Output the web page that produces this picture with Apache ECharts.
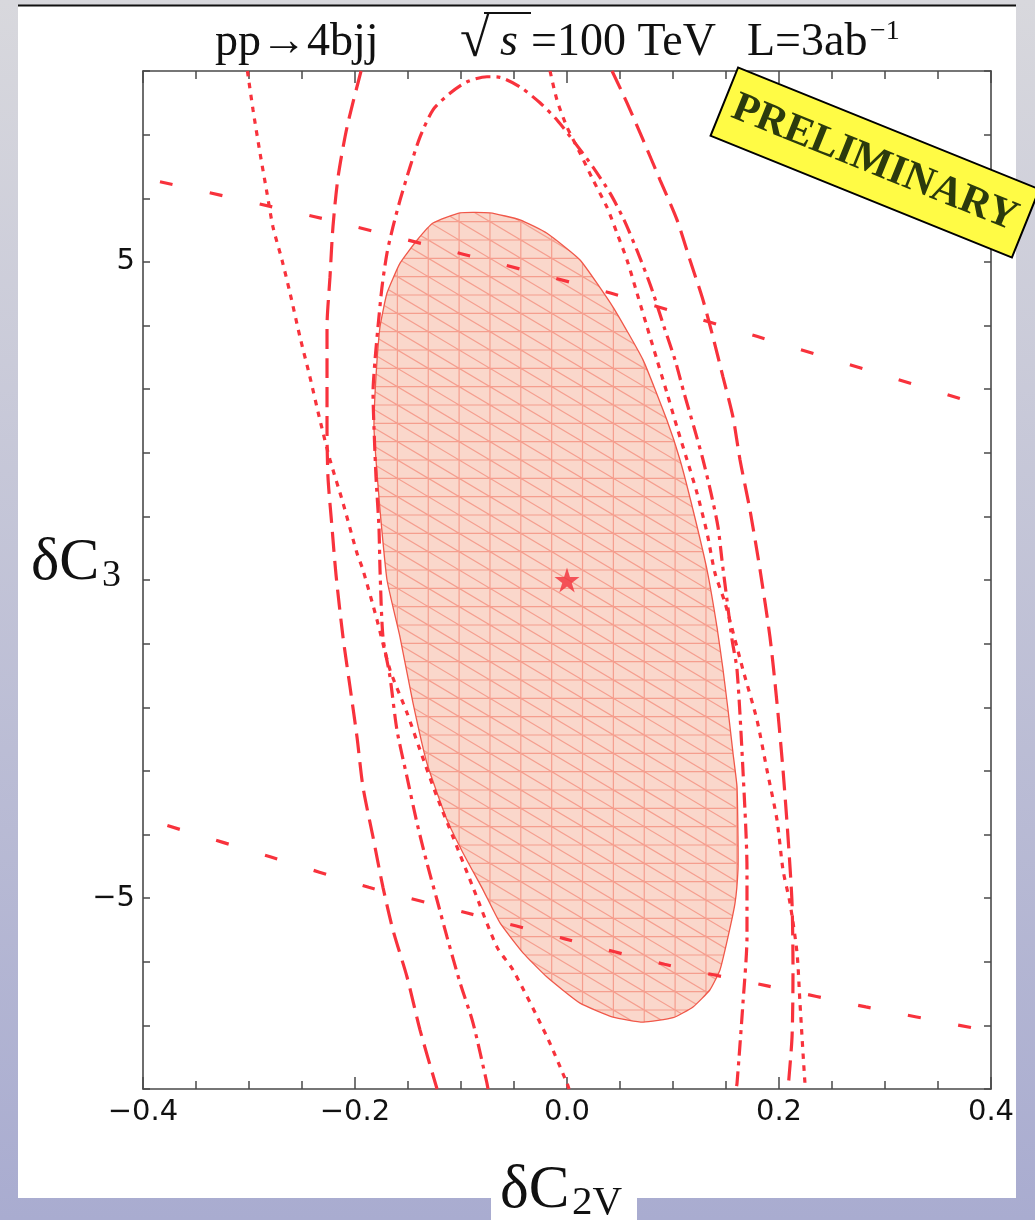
<!DOCTYPE html>
<html><head><meta charset="utf-8">
<script src="https://cdn.jsdelivr.net/npm/echarts/dist/echarts.min.js"></script>
<style>html,body{margin:0;padding:0;background:#fff}#c{width:1035px;height:1220px}</style>
</head><body><div id="c"></div>
<script>
// ---------- data ----------
const xTicks = [-0.4, -0.2, 0, 0.2, 0.4];
const xTickLabels = ['−0.4', '−0.2', '0.0', '0.2', '0.4'];
const yTicks = [-5, 0, 5];
const yTickLabels = ['−5', '0', '5'];
const bestFit = [[0, 0]];

const regionFill = [[-0.0726,5.77],[-0.0443,5.66],[-0.0189,5.45],[0.0123,5.03],[0.0434,4.29],[0.0717,3.46],[0.0943,2.51],[0.1066,1.89],[0.1189,1.10],[0.1321,0.16],[0.1415,-0.74],[0.1472,-1.41],[0.1519,-2.04],[0.1566,-2.72],[0.1604,-3.25],[0.1613,-4.04],[0.1613,-4.56],[0.1585,-5.08],[0.1519,-5.61],[0.1443,-6.13],[0.1349,-6.44],[0.1189,-6.71],[0.1000,-6.88],[0.0717,-6.95],[0.0434,-6.87],[0.0123,-6.65],[-0.0189,-6.24],[-0.0415,-5.86],[-0.0632,-5.39],[-0.0792,-4.87],[-0.0981,-4.29],[-0.1132,-3.77],[-0.1321,-2.88],[-0.1453,-1.93],[-0.1575,-0.90],[-0.1698,0.00],[-0.1764,1.10],[-0.1802,1.89],[-0.1821,2.40],[-0.1811,2.94],[-0.1792,3.46],[-0.1764,3.98],[-0.1698,4.51],[-0.1575,4.98],[-0.1415,5.34],[-0.1264,5.61],[-0.1009,5.77]];

const sparseTop = [[-0.384,6.26],[-0.238,5.71],[-0.098,5.12],[0.041,4.51],[0.179,3.83],[0.375,2.83]];
const sparseBottom = [[-0.377,-3.86],[-0.280,-4.35],[-0.187,-4.83],[-0.095,-5.23],[-0.002,-5.64],[0.092,-6.04],[0.189,-6.38],[0.282,-6.71],[0.386,-7.05]];

const dashDot = [[-0.0745,-8.0],[-0.0755,-7.91],[-0.0887,-6.96],[-0.1009,-6.33],[-0.1132,-5.61],[-0.1226,-5.03],[-0.1321,-4.45],[-0.1415,-3.82],[-0.1509,-3.10],[-0.1604,-2.36],[-0.1670,-1.52],[-0.1736,-0.90],[-0.1764,0.16],[-0.1774,0.83],[-0.1802,1.62],[-0.1821,2.40],[-0.1830,2.94],[-0.1811,3.46],[-0.1783,3.98],[-0.1745,4.61],[-0.1698,5.14],[-0.1642,5.55],[-0.1575,5.97],[-0.1481,6.49],[-0.1387,6.96],[-0.1264,7.39],[-0.1104,7.65],[-0.0943,7.83],[-0.0755,7.91],[-0.0632,7.90],[-0.0443,7.75],[-0.0255,7.50],[-0.0094,7.23],[0.0075,6.87],[0.0245,6.49],[0.0406,6.08],[0.0538,5.66],[0.0670,5.14],[0.0792,4.61],[0.0915,3.98],[0.1019,3.46],[0.1104,2.94],[0.1198,2.40],[0.1283,1.89],[0.1358,1.37],[0.1425,0.83],[0.1462,0.31],[0.1509,-0.31],[0.1557,-0.94],[0.1604,-1.41],[0.1660,-2.99],[0.1698,-4.56],[0.1698,-5.61],[0.1660,-6.65],[0.1604,-7.91],[0.1594,-8.0]];

const dottedLeft = [[-0.3015,8.0],[-0.2962,7.39],[-0.2896,6.71],[-0.2830,6.08],[-0.2774,5.55],[-0.2689,5.03],[-0.2613,4.51],[-0.2519,3.82],[-0.2425,3.19],[-0.2330,2.51],[-0.2236,1.89],[-0.2113,1.21],[-0.1981,0.42],[-0.1925,0.16],[-0.1792,-0.63],[-0.1670,-1.41],[-0.1509,-2.09],[-0.1387,-2.67],[-0.1226,-3.41],[-0.1075,-4.04],[-0.0887,-4.83],[-0.0660,-5.77],[-0.0509,-6.13],[-0.0189,-7.18],[0.0000,-7.91],[0.0019,-8.0]];
const dottedRight = [[-0.0160,8.0],[-0.0094,7.54],[0.0000,7.12],[0.0123,6.71],[0.0245,6.29],[0.0377,5.86],[0.0472,5.45],[0.0566,5.03],[0.0660,4.51],[0.0755,3.98],[0.0849,3.46],[0.0943,2.94],[0.1038,2.40],[0.1132,1.89],[0.1226,1.37],[0.1321,0.74],[0.1396,0.11],[0.1491,-0.36],[0.1660,-1.41],[0.1792,-2.20],[0.1887,-2.99],[0.1981,-3.77],[0.2038,-4.56],[0.2104,-5.08],[0.2170,-5.86],[0.2198,-6.65],[0.2245,-7.91],[0.2255,-8.0]];

const dashedLeft = [[-0.1943,8.0],[-0.2075,7.12],[-0.2160,6.33],[-0.2208,5.55],[-0.2236,4.76],[-0.2264,3.98],[-0.2264,3.19],[-0.2264,2.40],[-0.2255,1.62],[-0.2217,0.83],[-0.2179,0.08],[-0.2113,-0.90],[-0.2047,-1.68],[-0.1981,-2.47],[-0.1925,-3.25],[-0.1830,-4.04],[-0.1736,-4.83],[-0.1642,-5.50],[-0.1509,-6.24],[-0.1387,-7.07],[-0.1226,-8.0]];
const dashedRight = [[0.0425,8.0],[0.0566,7.50],[0.0717,6.92],[0.0877,6.29],[0.1038,5.66],[0.1160,5.03],[0.1283,4.40],[0.1377,3.82],[0.1472,3.19],[0.1566,2.56],[0.1632,1.89],[0.1726,1.10],[0.1821,0.16],[0.1915,-0.90],[0.1981,-1.93],[0.2038,-2.99],[0.2085,-4.04],[0.2123,-5.08],[0.2132,-6.13],[0.2123,-7.18],[0.2085,-8.0]];

// ---------- styles ----------
const RED = '#f8323c';
const AX = '#4a4a4a';
const TICKFONT = '"DejaVu Sans", sans-serif';
const SERIF = '"Liberation Serif", "DejaVu Serif", serif';

function makeHatch() {
  const W = 216, H = 110, w = W / 7, h = H / 6, x0 = 27.1, y0 = 1.67;
  const c = document.createElement('canvas');
  c.width = W; c.height = H;
  const g = c.getContext('2d');
  g.fillStyle = '#fad7cb';
  g.fillRect(0, 0, W, H);
  g.strokeStyle = 'rgba(240,112,92,0.55)';
  g.lineWidth = 1.2;
  g.beginPath();
  for (let k = -1; k <= 8; k++) { const x = x0 + k * w; g.moveTo(x, -2); g.lineTo(x, H + 2); }
  for (let j = -1; j <= 7; j++) { const y = y0 + j * h; g.moveTo(-2, y); g.lineTo(W + 2, y); }
  for (let n = -16; n <= 12; n++) {
    g.moveTo(x0 - 3 * w, y0 + n * h - 3 * h);
    g.lineTo(x0 + 10 * w, y0 + n * h + 10 * h);
  }
  g.stroke();
  return c;
}
const hatch = makeHatch();

const lbl = v => { const i = xTicks.findIndex(t => Math.abs(t - v) < 1e-6); return i >= 0 ? xTickLabels[i] : ''; };
const lblY = v => { const i = yTicks.findIndex(t => Math.abs(t - v) < 1e-6); return i >= 0 ? yTickLabels[i] : ''; };

function xAx(pos, showLabel) {
  return {
    type: 'value', position: pos, min: -0.4, max: 0.4, interval: 0.2,
    axisLine: { show: true, onZero: false, lineStyle: { color: AX, width: 1.6 } },
    axisTick: { show: true, inside: true, length: 12, lineStyle: { color: AX, width: 1.5 } },
    minorTick: { show: true, splitNumber: 4, length: 8, lineStyle: { color: AX, width: 1.5 } },
    splitLine: { show: false }, minorSplitLine: { show: false },
    axisLabel: { show: showLabel, margin: 9, formatter: lbl, color: '#111', fontSize: 29, fontFamily: TICKFONT }
  };
}
function yAxMinor(pos) {
  return {
    type: 'value', position: pos, min: -8, max: 8, interval: 1,
    axisLine: { show: true, onZero: false, lineStyle: { color: AX, width: 1.6 } },
    axisTick: { show: true, inside: true, length: 7, lineStyle: { color: AX, width: 1.5 } },
    splitLine: { show: false }, axisLabel: { show: false }
  };
}
function yAxMajor(pos, showLabel) {
  return {
    type: 'value', position: pos, min: -8, max: 8, interval: 1,
    axisLine: { show: false },
    axisTick: { show: true, inside: true, length: 12, customValues: yTicks, lineStyle: { color: AX, width: 1.5 } },
    splitLine: { show: false },
    axisLabel: { show: showLabel, margin: 8, customValues: yTicks, formatter: lblY, color: '#111', fontSize: 29, fontFamily: TICKFONT }
  };
}

function curve(name, data, dash) {
  return {
    name, type: 'line', data, xAxisIndex: 0, yAxisIndex: 0, symbol: 'none', smooth: 0.25,
    lineStyle: { color: RED, width: 3.2, type: dash, cap: 'butt' }, z: 3, silent: true
  };
}

const STAR = 'path://M50,0 L61.2,34.5 L97.6,34.5 L68.2,55.9 L79.4,90.5 L50,69.1 L20.6,90.5 L31.8,55.9 L2.4,34.5 L38.8,34.5 Z';

const option = {
  animation: false,
  backgroundColor: { type: 'linear', x: 0, y: 0, x2: 0, y2: 1, colorStops: [{ offset: 0, color: '#d8d8dd' }, { offset: 1, color: '#a9acd0' }] },
  grid: { left: 143, top: 71, width: 848, height: 1018, containLabel: false },
  xAxis: [xAx('bottom', true), xAx('top', false)],
  yAxis: [yAxMinor('left'), yAxMajor('left', true), yAxMinor('right'), yAxMajor('right', false)],
  series: [
    {
      type: 'custom', name: 'region', data: [[0, 0]], xAxisIndex: 0, yAxisIndex: 0, z: 1, silent: true,
      renderItem: (params, api) => {
        if (params.dataIndex !== 0) return null;
        const pts = regionFill.map(p => api.coord(p));
        return {
          type: 'polygon', shape: { points: pts, smooth: 0.15 },
          style: { fill: { image: hatch, repeat: 'repeat' }, stroke: '#f0584a', lineWidth: 1.3 }
        };
      }
    },
    curve('sparseTop', sparseTop, [13, 38]),
    curve('sparseBottom', sparseBottom, [13, 38]),
    curve('dashedLeft', dashedLeft, [20, 9]),
    curve('dashedRight', dashedRight, [20, 9]),
    curve('dottedLeft', dottedLeft, [5.5, 6.5]),
    curve('dottedRight', dottedRight, [5.5, 6.5]),
    curve('dashDot', dashDot, [15, 6, 4, 6]),
    {
      type: 'scatter', data: bestFit, xAxisIndex: 0, yAxisIndex: 0, symbol: STAR, symbolSize: 25,
      itemStyle: { color: '#f2303a' }, z: 5, silent: true
    }
  ],
  graphic: [
    { type: 'rect', z: -10, silent: true, shape: { x: 18, y: 6, width: 998, height: 1192 }, style: { fill: '#ffffff' } },
    { type: 'rect', z: -10, silent: true, shape: { x: 491, y: 1150, width: 146, height: 70 }, style: { fill: '#ffffff' } },
    { type: 'rect', z: 9, silent: true, shape: { x: 22, y: 540, width: 116, height: 62 }, style: { fill: '#ffffff' } },
    { type: 'line', z: 1, silent: true, shape: { x1: 18, y1: 5.5, x2: 1016, y2: 5.5 }, style: { stroke: '#111', lineWidth: 2 } },
    { type: 'text', z: 10, x: 215, y: 43, style: { text: 'pp→4bjj', font: '46px ' + SERIF, fill: '#111', verticalAlign: 'middle' } },
    { type: 'text', z: 10, x: 460, y: 42, style: { text: '√', font: '54px ' + SERIF, fill: '#111', verticalAlign: 'middle' } },
    { type: 'line', z: 10, shape: { x1: 484, y1: 13, x2: 531, y2: 13 }, style: { stroke: '#111', lineWidth: 2 } },
    { type: 'text', z: 10, x: 500, y: 43, style: { text: 's', font: 'italic 46px ' + SERIF, fill: '#111', verticalAlign: 'middle' } },
    { type: 'text', z: 10, x: 531, y: 43, style: { text: '=100 TeV', font: '46px ' + SERIF, fill: '#111', verticalAlign: 'middle' } },
    { type: 'text', z: 10, x: 747, y: 43, style: { text: 'L=3ab', font: '46px ' + SERIF, fill: '#111', verticalAlign: 'middle' } },
    { type: 'text', z: 10, x: 870, y: 31.5, style: { text: '−1', font: '28px ' + SERIF, fill: '#111', verticalAlign: 'middle' } },
    { type: 'text', z: 10, x: 31, y: 563, style: { text: 'δC', font: '60px ' + SERIF, fill: '#111', verticalAlign: 'middle' } },
    { type: 'text', z: 10, x: 102, y: 576, style: { text: '3', font: '38px ' + SERIF, fill: '#111', verticalAlign: 'middle' } },
    { type: 'text', z: 10, x: 500, y: 1191, style: { text: 'δC', font: '61px ' + SERIF, fill: '#111', verticalAlign: 'middle' } },
    { type: 'text', z: 10, x: 572, y: 1203, style: { text: '2V', font: '41px ' + SERIF, fill: '#111', verticalAlign: 'middle' } },
    {
      type: 'group', x: 875, y: 162.5, rotation: -22 * Math.PI / 180, z: 100,
      children: [
        { type: 'rect', z: 100, shape: { x: -162.5, y: -36.75, width: 325, height: 73.5 }, style: { fill: '#fffb45', stroke: '#000', lineWidth: 2 } },
        { type: 'text', z: 101, x: 0, y: 1, style: { text: 'PRELIMINARY', font: 'bold 42px ' + SERIF, fill: '#2b3a0d', align: 'center', verticalAlign: 'middle' } }
      ]
    }
  ]
};

const chart = echarts.init(document.getElementById('c'), null, { renderer: 'canvas' });
chart.setOption(option);
</script>
</body></html>
